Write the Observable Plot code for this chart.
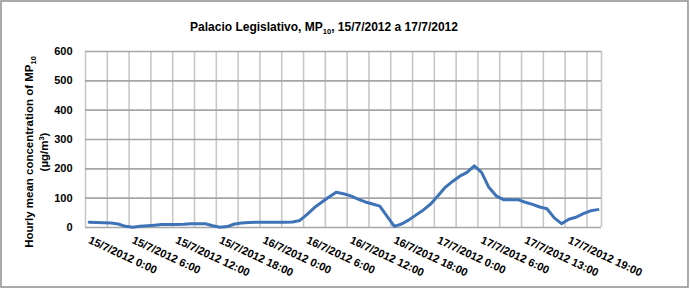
<!DOCTYPE html>
<html>
<head>
<meta charset="utf-8">
<script src="https://cdn.jsdelivr.net/npm/d3@7"></script>
<script src="https://cdn.jsdelivr.net/npm/@observablehq/plot@0.6"></script>
<style>
  body { margin: 0; background: #fff; }
  #chart svg { display: block; }
</style>
</head>
<body>
<div id="chart"></div>
<script>
// Hourly PM10 (µg/m³), category order as in the reference (71 hourly slots)
const pm10 = [
  18, 17, 16, 15, 12, 4, 1, 4, 6, 8, 10, 10, 10, 11, 13, 13, 13, 6, 1, 3, 12, 15, 17, 18,
  18, 18, 18, 18, 19, 24, 45, 68, 86, 104, 120, 115, 108, 97, 87, 80, 73, 38, 4, 12, 26, 43, 60, 80,
  108, 137, 157, 175, 188, 210, 188, 137, 108, 95, 95, 95, 86, 79, 70, 64, 33, 13, 28, 35, 47, 57, 61
];
const tickIndex = [0, 6, 12, 18, 24, 30, 36, 42, 48, 54, 60, 66];
const tickLabels = [
  "15/7/2012 0:00", "15/7/2012 6:00", "15/7/2012 12:00", "15/7/2012 18:00",
  "16/7/2012 0:00", "16/7/2012 6:00", "16/7/2012 12:00", "16/7/2012 18:00",
  "17/7/2012 0:00", "17/7/2012 6:00", "17/7/2012 13:00", "17/7/2012 19:00"
];
const yTicks = [0, 100, 200, 300, 400, 500, 600];
const gridEvery = 3;

const n = pm10.length;
const gridX = d3.range(0, n, gridEvery).concat([n]);
const labelAt = new Map(tickIndex.map((t, k) => [t + 0.5, tickLabels[k]]));
const font = "'Liberation Sans', Arial, sans-serif";

const chart = Plot.plot({
  width: 690,
  height: 289,
  marginLeft: 85,
  marginRight: 89,
  marginTop: 51,
  marginBottom: 62,
  style: { fontFamily: font, fontSize: "11px", fontWeight: "bold", color: "#000", background: "#fff" },
  x: { type: "linear", domain: [0, n] },
  y: { domain: [0, 600] },
  marks: [
    Plot.ruleX(gridX, { x: d => d, y1: 0, y2: 600, stroke: "#c8c8c8", strokeWidth: 1.6 }),
    Plot.ruleY(yTicks, { y: d => d, x1: 0, x2: n, stroke: "#a6a6a6", strokeWidth: 1.6 }),
    Plot.line(pm10, { x: (d, i) => i + 0.5, y: d => d, stroke: "#3f73b8", strokeWidth: 3, strokeLinejoin: "round" }),
    Plot.axisY(yTicks, { tickSize: 0, tickPadding: 13, label: null, fontWeight: "bold" }),
    Plot.axisX(tickIndex.map(t => t + 0.5), {
      tickSize: 0, tickPadding: 12, tickRotate: 25, label: null,
      tickFormat: d => labelAt.get(d), fontWeight: "bold"
    })
  ]
});

const svg = d3.select(chart);
// outer border
svg.append("rect").attr("x", 1).attr("y", 1).attr("width", 687).attr("height", 286)
  .attr("fill", "none").attr("stroke", "#8f8f8f").attr("stroke-width", 1.5);

// title with subscript
const title = svg.append("text").attr("x", 324).attr("y", 31)
  .attr("text-anchor", "middle").attr("font-family", font)
  .attr("font-size", 12).attr("font-weight", "bold").attr("fill", "#000");
title.append("tspan").text("Palacio Legislativo, MP");
title.append("tspan").attr("font-size", 7.5).attr("dy", 3).text("10");
title.append("tspan").attr("dy", -3).text(", 15/7/2012 a 17/7/2012");

// y-axis label, two lines
const yl = svg.append("g").attr("transform", "translate(33,152) rotate(-90)")
  .attr("font-family", font).attr("font-size", 11.5).attr("font-weight", "bold").attr("fill", "#000");
const l1 = yl.append("text").attr("x", 0).attr("y", 0).attr("text-anchor", "middle");
l1.append("tspan").text("Hourly mean concentration of MP");
l1.append("tspan").attr("font-size", 7.5).attr("dy", 3).text("10");
const l2 = yl.append("text").attr("x", 0).attr("y", 15).attr("text-anchor", "middle");
l2.append("tspan").text("(µg/m");
l2.append("tspan").attr("font-size", 7.5).attr("dy", -4).text("3");
l2.append("tspan").attr("dy", 4).text(")");

document.getElementById("chart").appendChild(chart);
</script>
</body>
</html>
